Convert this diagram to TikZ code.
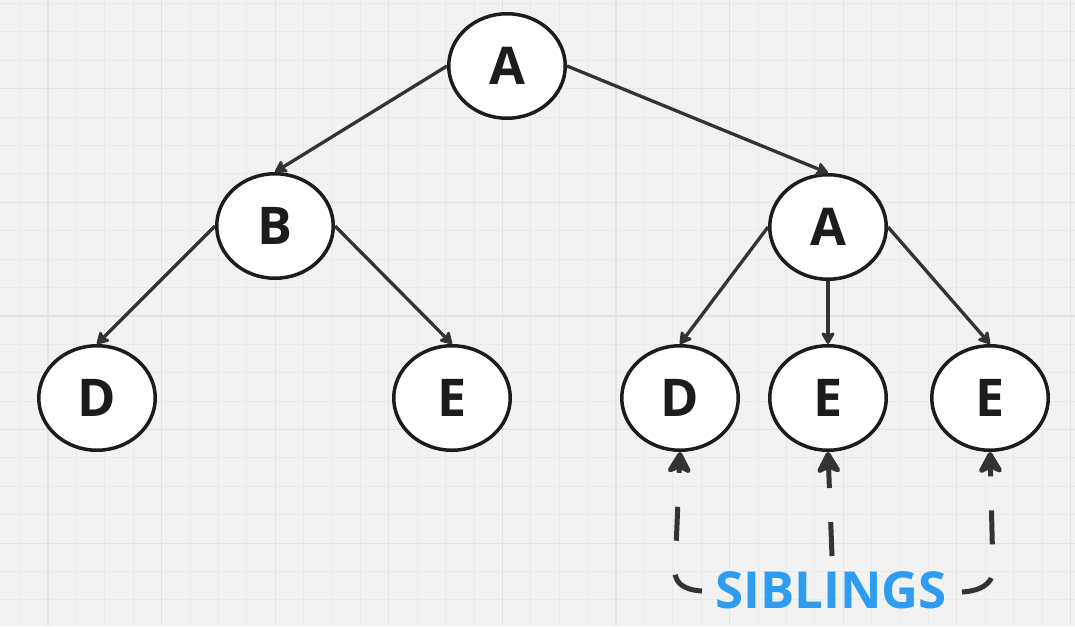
\documentclass[tikz,border=0pt]{standalone}
\usepackage{fontspec}
\setmainfont{Open Sans}
\usetikzlibrary{arrows.meta,shapes.geometric}
\definecolor{bgc}{HTML}{F2F2F2}
\definecolor{gridminor}{HTML}{E9E9E9}
\definecolor{gridmajor}{HTML}{E3E3E3}
\definecolor{inkc}{HTML}{1C1C1C}
\definecolor{linec}{HTML}{333333}
\definecolor{sibblue}{HTML}{2E9CF0}
\begin{document}
\begin{tikzpicture}[x=1pt,y=-1pt,
  treenode/.style={ellipse, draw=inkc, line width=3.5pt, fill=white,
    minimum width=116.5pt, minimum height=104.5pt, inner sep=0pt,
    font=\fontsize{52}{60}\selectfont\bfseries, text=inkc},
  conn/.style={draw=linec, line width=3.3pt,
    -{Stealth[length=14pt,width=16pt,inset=3pt,round]}},
  sib/.style={draw=linec, line width=5pt, dash pattern=on 34pt off 34pt,
    -{Stealth[length=26pt,width=29pt,inset=7pt,round]}},
  minorline/.style={draw=gridminor, line width=1pt},
  majorline/.style={draw=gridmajor, line width=1.2pt},
  label/.style={font=\fontsize{51}{60}\selectfont\bfseries, text=sibblue}
]
\useasboundingbox (0,0) rectangle (1075,626);
\fill[bgc] (0,0) rectangle (1075,626);
\foreach \i in {0,...,37} \draw[minorline] ({19.6+28.4*\i},0) -- ++(0,626);
\foreach \j in {0,...,22} \draw[minorline] (0,{3.5+28.4*\j}) -- ++(1075,0);
\foreach \i in {0,...,9} \draw[majorline] ({48+113.6*\i},0) -- ++(0,626);
\foreach \j in {0,...,4} \draw[majorline] (0,{88.7+113.6*\j}) -- ++(1075,0);

\node[treenode] (a1) at (507,66) {A};
\node[treenode] (b)  at (275,226) {B};
\node[treenode] (a2) at (828,227) {A};
\node[treenode] (d1) at (97,398) {D};
\node[treenode] (e1) at (452,398) {E};
\node[treenode] (d2) at (680,398) {D};
\node[treenode] (e2) at (828,398) {E};
\node[treenode] (e3) at (990,398) {E};

\draw[conn] (a1.west) -- (b.north);
\draw[conn] (a1.east) -- (a2.north);
\draw[conn] (b.west) -- (d1.north);
\draw[conn] (b.east) -- (e1.north);
\draw[conn] (a2.west) -- (d2.north);
\draw[conn] (a2.south) -- (e2.north);
\draw[conn] (a2.east) -- (e3.north);

\node[label, anchor=base] (sibl) at (831,608) {SIBLINGS};

\coordinate (sl) at (702,591);
\coordinate (sm) at (832,556);
\coordinate (sr) at (962,592);
\draw[sib] (sl) .. controls (685,590) and (676,584) .. (675,573) -- (d2.south);
\draw[sib] (sm) -- (e2.south);
\draw[sib] (sr) .. controls (980,591) and (992,584) .. (993,572) -- (e3.south);
\end{tikzpicture}
\end{document}
